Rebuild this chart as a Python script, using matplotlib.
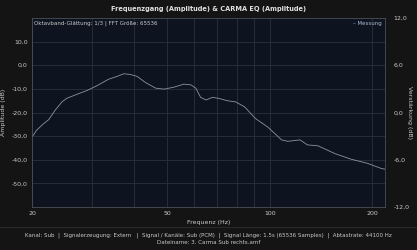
import numpy as np
import matplotlib.pyplot as plt
from matplotlib.ticker import LogLocator, FixedLocator, NullFormatter

# Messkurve
freq = [20.0, 20.6, 21.6, 22.4, 23.4, 24.5, 25.3, 27.1, 29.0, 31.0, 33.6, 35.6,
        37.2, 38.9, 40.7, 43.1, 46.2, 48.9, 52.2, 55.9, 58.6, 60.6, 62.6, 64.9,
        67.8, 70.7, 74.9, 79.3, 84.3, 90.8, 98.7, 108.3, 112.9, 122.7, 128.9,
        138.6, 155.3, 173.6, 193.5, 212.7, 218.0]
ampl = [-30.5, -27.6, -24.8, -23.0, -19.0, -15.5, -14.0, -12.3, -10.7, -8.7,
        -5.9, -4.7, -3.6, -3.9, -4.7, -7.3, -9.7, -10.1, -9.3, -8.0, -8.3, -9.7,
        -13.6, -14.7, -13.6, -14.0, -15.0, -15.5, -17.6, -22.6, -26.2, -31.6,
        -32.2, -31.6, -33.7, -34.1, -37.4, -39.8, -41.5, -43.7, -44.0]

left_ticks = [10, 0, -10, -20, -30, -40, -50]
right_ticks = [12, 6, 0, -6, -12]
x_ticks = [20, 50, 100, 200]

bg = '#141414'
ax_bg = '#0e141f'
grid_c = '#2b313b'
txt = '#c9c9c9'
line_c = '#8a93a6'

fig = plt.figure(figsize=(4.17, 2.5), dpi=100, facecolor=bg)
ax = fig.add_axes([32/417, 1-207/250, (385-32)/417, (207-18)/250])
ax.set_facecolor(ax_bg)

ax.plot(freq, ampl, color=line_c, lw=0.6)

ax.set_xscale('log')
ax.set_xlim(20, 218)
ax.set_ylim(-60, 20)
ax.xaxis.set_major_locator(FixedLocator(x_ticks))
ax.xaxis.set_minor_locator(LogLocator(subs=range(2, 10)))
ax.xaxis.set_minor_formatter(NullFormatter())
ax.set_xticklabels([str(t) for t in x_ticks])
ax.set_yticks(left_ticks)
ax.set_yticklabels([f'{t:.1f}'.replace('.', ',') for t in left_ticks])
ax.grid(True, which='both', color=grid_c, lw=0.6)
ax.tick_params(colors=txt, labelsize=4.5, length=0, pad=3)
ax.tick_params(which='minor', length=0)
for s in ax.spines.values():
    s.set_color('#4a4f58')
    s.set_linewidth(0.6)
ax.set_xlabel('Frequenz (Hz)', color=txt, fontsize=4.5, labelpad=3)
ax.set_ylabel('Amplitude (dB)', color=txt, fontsize=4.5, labelpad=4)

ax2 = ax.twinx()
ax2.set_ylim(-12, 12)
ax2.set_yticks(right_ticks)
ax2.set_yticklabels([f'{t:.1f}'.replace('.', ',') for t in right_ticks])
ax2.tick_params(colors=txt, labelsize=4.5, length=0, pad=6)
for s in ax2.spines.values():
    s.set_visible(False)
ax2.set_ylabel('Verstärkung (dB)', color=txt, fontsize=4.5, rotation=270, va='center')
ax2.yaxis.set_label_coords(1.068, 0.5)

ax.text(0.006, 0.985, 'Oktavband-Glättung: 1/3 | FFT Größe: 65536', transform=ax.transAxes,
        color=txt, fontsize=4, ha='left', va='top')
ax.text(0.99, 0.985, '– Messung', transform=ax.transAxes,
        color='#a9b6d6', fontsize=4, ha='right', va='top')

fig.text(0.5, 1-9/250, 'Frequenzgang (Amplitude) & CARMA EQ (Amplitude)', color='#e0e0e0',
         fontsize=4.8, fontweight='bold', ha='center', va='center')

fig.add_artist(plt.Line2D([0, 1], [1-227/250, 1-227/250], color='#2e2e2e', lw=0.6))
fig.text(0.5, 1-235/250, 'Kanal: Sub  |  Signalerzeugung: Extern   |  Signal / Kanäle: Sub (PCM)  |  '
         'Signal Länge: 1.5s (65536 Samples)  |  Abtastrate: 44100 Hz',
         color=txt, fontsize=4, ha='center', va='center')
fig.text(0.5, 1-243/250, 'Dateiname: 3. Carma Sub rechts.amf', color=txt, fontsize=4,
         ha='center', va='center')

plt.savefig('out.png', dpi=100, facecolor=bg)
